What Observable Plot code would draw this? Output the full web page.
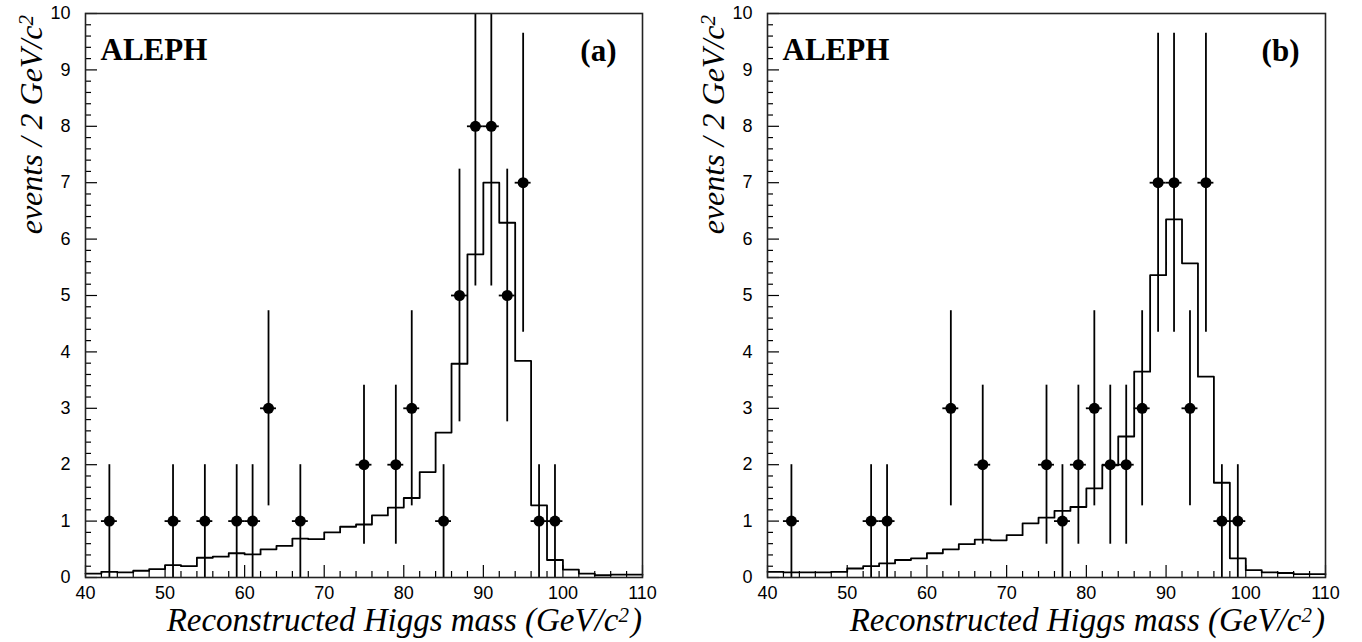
<!DOCTYPE html>
<html>
<head>
<meta charset="utf-8">
<script src="https://cdn.jsdelivr.net/npm/d3@7"></script>
<script src="https://cdn.jsdelivr.net/npm/@observablehq/plot@0.6"></script>
<style>
  html, body { margin: 0; padding: 0; background: #fff; }
  #wrap { display: flex; width: 1362px; height: 642px; }
</style>
</head>
<body>
<div id="wrap"></div>
<script>
// Bin lower edges (GeV/c^2), 2 GeV bins from 40 to 110
const binEdges = [40,42,44,46,48,50,52,54,56,58,60,62,64,66,68,70,72,74,76,78,80,82,84,86,88,90,92,94,96,98,100,102,104,106,108];
const xMax = 110;

// Panel (a): expected histogram
const histA = [0.07,0.10,0.09,0.12,0.15,0.22,0.20,0.35,0.37,0.43,0.41,0.50,0.56,0.69,0.68,0.80,0.90,0.94,1.10,1.24,1.41,1.87,2.57,3.79,5.73,7.00,6.29,3.84,1.28,0.31,0.14,0.07,0.04,0.05,0.05];
// Panel (a): data points
const dataXA = [43,51,55,59,61,63,67,75,79,81,85,87,89,91,93,95,97,99];
const dataNA = [1,1,1,1,1,3,1,2,2,3,1,5,8,8,5,7,1,1];
const dataErrA = [1,1,1,1,1,1.73,1,1.41,1.41,1.73,1,2.24,2.83,2.83,2.24,2.65,1,1];

// Panel (b): expected histogram
const histB = [0.10,0.09,0.09,0.09,0.10,0.16,0.20,0.25,0.31,0.34,0.43,0.50,0.59,0.67,0.66,0.75,0.96,1.06,1.18,1.25,1.58,1.99,2.50,3.65,5.36,6.35,5.57,3.56,1.68,0.34,0.13,0.09,0.08,0.06,0.06];
// Panel (b): data points
const dataXB = [43,53,55,63,67,75,77,79,81,83,85,87,89,91,93,95,97,99];
const dataNB = [1,1,1,3,2,2,1,2,3,2,2,3,7,7,3,7,1,1];
const dataErrB = [1,1,1,1.73,1.41,1.41,1,1.41,1.73,1.41,1.41,1.73,2.65,2.65,1.73,2.65,1,1];

// Axis ticks
const xMajor = [40,50,60,70,80,90,100,110];
const xMinor = [42,44,46,48,52,54,56,58,62,64,66,68,72,74,76,78,82,84,86,88,92,94,96,98,102,104,106,108];
const yMajor = [0,1,2,3,4,5,6,7,8,9,10];
const yMinor = [0.2,0.4,0.6,0.8,1.2,1.4,1.6,1.8,2.2,2.4,2.6,2.8,3.2,3.4,3.6,3.8,4.2,4.4,4.6,4.8,5.2,5.4,5.6,5.8,6.2,6.4,6.6,6.8,7.2,7.4,7.6,7.8,8.2,8.4,8.6,8.8,9.2,9.4,9.6,9.8];

const panels = [
  {tag: "(a)", hist: histA, xs: dataXA, ns: dataNA, errs: dataErrA, ml: 85, mr: 39},
  {tag: "(b)", hist: histB, xs: dataXB, ns: dataNB, errs: dataErrB, ml: 86, mr: 37}
];

const W = 681, H = 642, MT = 13, MB = 65;
const serif = "'Liberation Serif', 'Times New Roman', serif";
const sans = "'Liberation Sans', Arial, Helvetica, sans-serif";

for (const p of panels) {
  const line = binEdges.map((e, i) => ({x: e, y: p.hist[i]}));
  line.push({x: xMax, y: p.hist[p.hist.length - 1]});
  const pts = p.xs.map((x, i) => ({x, n: p.ns[i], lo: p.ns[i] - p.errs[i], hi: p.ns[i] + p.errs[i]}));
  const pw = W - p.ml - p.mr;
  const ph = H - MT - MB;

  const chart = Plot.plot({
    width: W,
    height: H,
    marginLeft: p.ml,
    marginRight: p.mr,
    marginTop: MT,
    marginBottom: MB,
    style: {background: "#fff", color: "#000"},
    x: {domain: [40, 110], axis: null},
    y: {domain: [0, 10], axis: null},
    marks: [
      Plot.line(line, {x: "x", y: "y", curve: "step-after", stroke: "#000", strokeWidth: 1.8}),
      Plot.ruleX(pts, {x: "x", y1: "lo", y2: "hi", stroke: "#000", strokeWidth: 1.8, clip: true}),
      Plot.ruleY(pts, {y: "n", x1: d => d.x - 1, x2: d => d.x + 1, stroke: "#000", strokeWidth: 1.8}),
      Plot.dot(pts, {x: "x", y: "n", r: 5.5, fill: "#000", stroke: "none"}),
      Plot.tickY(yMinor, {y: d => d, insetRight: pw - 6, stroke: "#000", strokeWidth: 1.2}),
      Plot.tickY(yMajor, {y: d => d, insetRight: pw - 12, stroke: "#000", strokeWidth: 1.2}),
      Plot.tickX(xMinor, {x: d => d, insetTop: ph - 6, stroke: "#000", strokeWidth: 1.2}),
      Plot.tickX(xMajor, {x: d => d, insetTop: ph - 12, stroke: "#000", strokeWidth: 1.2}),
      Plot.axisY({ticks: yMajor, label: null, tickSize: 0, tickPadding: 15, fontSize: 18, fontFamily: sans, tickFormat: d => String(d)}),
      Plot.axisX({ticks: xMajor, label: null, tickSize: 0, tickPadding: 9, fontSize: 18, fontFamily: sans, tickFormat: d => String(d)}),
      Plot.frame({stroke: "#222", strokeWidth: 1.6}),
      Plot.text(["ALEPH"], {frameAnchor: "top-left", textAnchor: "start", lineAnchor: "bottom", dx: 15, dy: 46, fontSize: 31, fontWeight: "bold", fontFamily: serif, fill: "#000"}),
      Plot.text([p.tag], {frameAnchor: "top-right", textAnchor: "end", lineAnchor: "bottom", dx: -26, dy: 47, fontSize: 31, fontWeight: "bold", fontFamily: serif, fill: "#000"})
    ]
  });

  const svg = d3.select(chart);
  // X axis title
  const xt = svg.append("text")
    .attr("x", W - p.mr)
    .attr("y", 631)
    .attr("text-anchor", "end")
    .attr("font-family", serif)
    .attr("font-style", "italic")
    .attr("font-size", 33)
    .attr("fill", "#000");
  xt.append("tspan").text("Reconstructed Higgs mass (GeV/c");
  xt.append("tspan").attr("font-size", 21).attr("dy", -9).text("2");
  xt.append("tspan").attr("dy", 9).attr("dx", 2).text(")");

  // Y axis title
  const yt = svg.append("text")
    .attr("transform", `translate(${p.ml - 43},15) rotate(-90)`)
    .attr("text-anchor", "end")
    .attr("font-family", serif)
    .attr("font-style", "italic")
    .attr("font-size", 32)
    .attr("fill", "#000");
  yt.append("tspan").text("events / 2 GeV/c");
  yt.append("tspan").attr("font-size", 21).attr("dy", -9).text("2");

  document.getElementById("wrap").appendChild(chart);
}
</script>
</body>
</html>
